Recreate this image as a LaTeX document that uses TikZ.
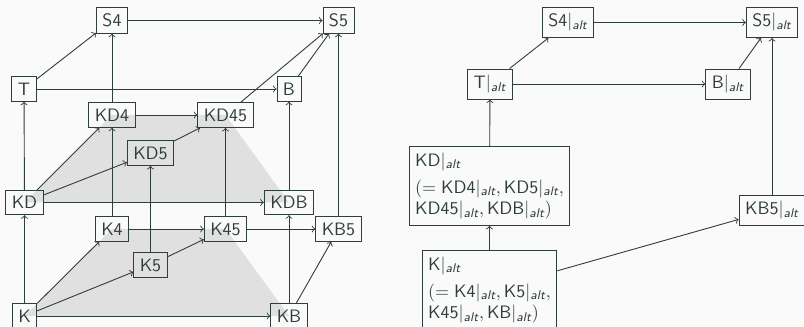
\documentclass[tikz,border=0pt]{standalone}
\usepackage{amsmath}
\usetikzlibrary{backgrounds}
\renewcommand{\familydefault}{\sfdefault}
\definecolor{ink}{HTML}{2F3D3D}
\definecolor{paper}{HTML}{FAFAFA}
\definecolor{shade}{HTML}{E0E0E0}
\newcommand{\rs}[1]{#1$|_{\textit{alt}}$}
\newcommand{\mrs}[1]{\text{#1}|_{\textit{alt}}}
\tikzset{
  box/.style={draw=ink, text=ink, rectangle, line width=0.5pt},
  mbox/.style={box, align=left},
  arr/.style={->, draw=ink, line width=0.5pt},
  plane/.style={fill=shade}
}
\begin{document}
\begin{tikzpicture}[x=0.5556pt, y=-0.5556pt]
\useasboundingbox (0,0) rectangle (804,327);

% ---- left: cube of modal logics ----
\node[box] (S4) at (112,20.5) {S4};
\node[box] (S5) at (338.5,20.5) {S5};
\node[box] (T) at (24,89) {T};
\node[box] (B) at (289,89) {B};
\node[box] (KD4) at (112,115) {KD4};
\node[box] (KD45) at (225.5,115) {KD45};
\node[box] (KD5) at (150.5,153) {KD5};
\node[box] (KD) at (24.5,202.5) {KD};
\node[box] (KDB) at (289,202.5) {KDB};
\node[box] (K4) at (112,229) {K4};
\node[box] (K45) at (225.5,229) {K45};
\node[box] (KB5) at (338.5,229) {KB5};
\node[box] (K5) at (150.5,265) {K5};
\node[box] (K) at (24.5,316) {K};
\node[box] (KB) at (289,316) {KB};

% page colour and the two shaded planes, behind everything
\begin{scope}[on background layer]
\fill[paper] (0,0) rectangle (804,327);
\fill[plane] (KD.center) -- (KD4.center) -- (KD45.center) -- (KDB.center) -- cycle;
\fill[plane] (K.center) -- (K4.center) -- (K45.center) -- (KB.center) -- cycle;
\end{scope}

\draw[arr] (S4) -- (S5);
\draw[arr] (T) -- (S4);
\draw[arr] (T) -- (B);
\draw[arr] (KD4) -- (S4);
\draw[arr] (KD4) -- (KD45);
\draw[arr] (KD45) -- (S5);
\draw[arr] (B) -- (S5);
\draw[arr] (KD) -- (T);
\draw[arr] (KD) -- (KD4);
\draw[arr] (KD) -- (KD5);
\draw[arr] (KD) -- (KDB);
\draw[arr] (KD5) -- (KD45);
\draw[arr] (KDB) -- (B);
\draw[arr] (KB5) -- (S5);
\draw[arr] (K) -- (KD);
\draw[arr] (K) -- (K4);
\draw[arr] (K) -- (K5);
\draw[arr] (K) -- (KB);
\draw[arr] (K4) -- (KD4);
\draw[arr] (K4) -- (K45);
\draw[arr] (K5) -- (KD5);
\draw[arr] (K5) -- (K45);
\draw[arr] (K45) -- (KD45);
\draw[arr] (K45) -- (KB5);
\draw[arr] (KB) -- (KDB);
\draw[arr] (KB) -- (KB5);

% ---- right: the collapsed lattice ----
\node[box] (aS4) at (568,22.5) {\rs{S4}};
\node[box] (aS5) at (772,22.5) {\rs{S5}};
\node[box] (aT) at (490,84) {\rs{T}};
\node[box] (aB) at (728,84) {\rs{B}};
\node[mbox] (aKD) at (489.5,186) {\rs{KD}\\[3pt]
  $(=\mrs{KD4},\mrs{KD5},$\\
  $\mrs{KD45},\mrs{KDB})$};
\node[mbox] (aK) at (489.5,290) {\rs{K}\\[3pt]
  $(=\mrs{K4},\mrs{K5},$\\
  $\mrs{K45},\mrs{KB})$};
\node[box] (aKB5) at (772,210) {\rs{KB5}};

\draw[arr] (aS4) -- (aS5);
\draw[arr] (aT) -- (aS4);
\draw[arr] (aT) -- (aB);
\draw[arr] (aB) -- (aS5);
\draw[arr] (aKB5) -- (aS5);
\draw[arr] (aKD) -- (aT);
\draw[arr] (aK) -- (aKD);
\draw[arr] (aK) -- (aKB5);
\end{tikzpicture}
\end{document}
